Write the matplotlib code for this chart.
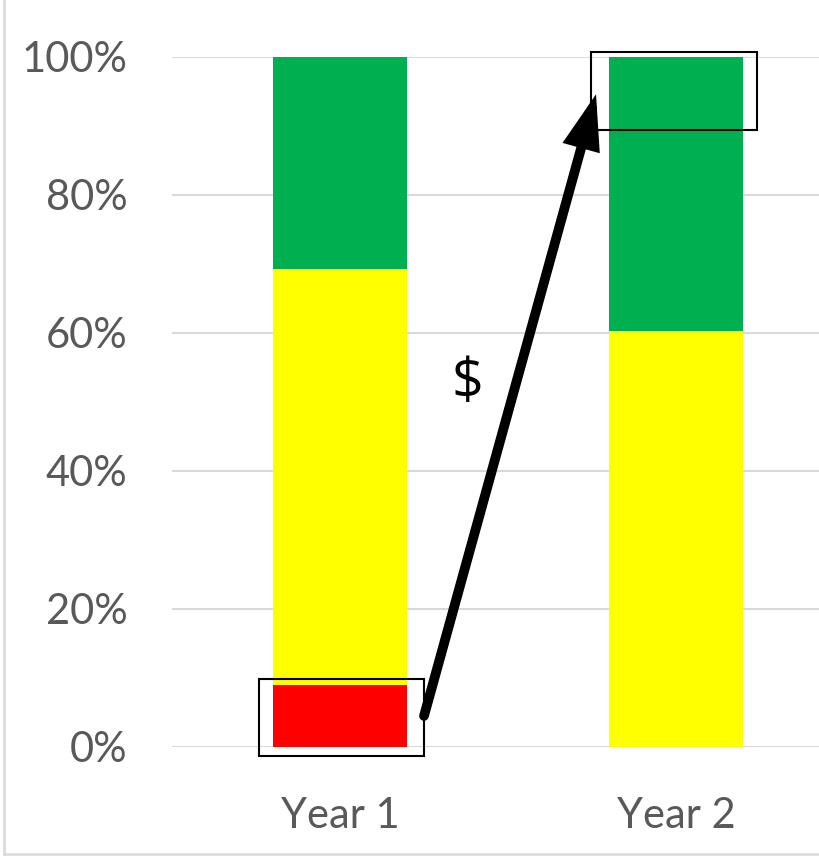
import matplotlib.pyplot as plt
from matplotlib.patches import Rectangle, FancyArrowPatch
from matplotlib.lines import Line2D

categories = ["Year 1", "Year 2"]
red_vals = [9.0, 0.0]
yellow_vals = [60.3, 60.3]
green_vals = [30.7, 39.7]
yticks = [0, 20, 40, 60, 80, 100]
ytick_labels = ["0%", "20%", "40%", "60%", "80%", "100%"]

plt.rcParams["font.family"] = ["Lato", "DejaVu Sans"]

fig = plt.figure(figsize=(8.2, 8.57), dpi=100)
ax = fig.add_axes([172 / 820, 110 / 857, 672 / 820, 690 / 857])

x = list(range(len(categories)))
width = 0.4
bottom = [0, 0]
for vals, color in [(red_vals, "#ff0000"), (yellow_vals, "#ffff00"), (green_vals, "#00b050")]:
    ax.bar(x, vals, width, bottom=bottom, color=color, zorder=2)
    bottom = [b + v for b, v in zip(bottom, vals)]

ax.set_xlim(-0.5, 1.5)
ax.set_ylim(0, 100)
ax.set_yticks(yticks)
ax.set_yticklabels(ytick_labels)
ax.set_xticks(x)
ax.set_xticklabels(categories)
ax.grid(axis="y", color="#d9d9d9", linewidth=1.5, zorder=0)
ax.set_axisbelow(True)
for s in ax.spines.values():
    s.set_visible(False)
ax.tick_params(axis="y", length=0, pad=32, labelsize=30, labelcolor="#595959")
ax.tick_params(axis="x", length=0, pad=36, labelsize=30, labelcolor="#595959")

# highlight boxes
ax.add_patch(Rectangle((x[0] - width / 2 - 0.04, -1.3), width + 0.09, red_vals[0] + 2.2,
                       fill=False, edgecolor="black", linewidth=1.5, clip_on=False, zorder=4))
ax.add_patch(Rectangle((x[1] - width / 2 - 0.053, 89.4), width + 0.093, 11.3,
                       fill=False, edgecolor="black", linewidth=1.5, clip_on=False, zorder=4))

# arrow
arrow = FancyArrowPatch((0.25, 4.5), (0.762, 94.6), arrowstyle="-|>,head_length=1.3,head_width=0.45",
                        mutation_scale=20, color="black", linewidth=7, shrinkA=0, shrinkB=0,
                        joinstyle="miter", clip_on=False, zorder=5)
ax.add_patch(arrow)
ax.text(0.38, 52.5, "$", fontsize=40, ha="center", va="center", color="black",
        family=["Open Sans", "DejaVu Sans"])

# chart area border (left and bottom visible)
fig.add_artist(Line2D([4 / 820, 4 / 820], [3 / 857, 1], transform=fig.transFigure,
                      color="#d9d9d9", linewidth=1.8))
fig.add_artist(Line2D([4 / 820, 1], [3 / 857, 3 / 857], transform=fig.transFigure,
                      color="#d9d9d9", linewidth=1.8))

fig.savefig("out.png", dpi=100)
